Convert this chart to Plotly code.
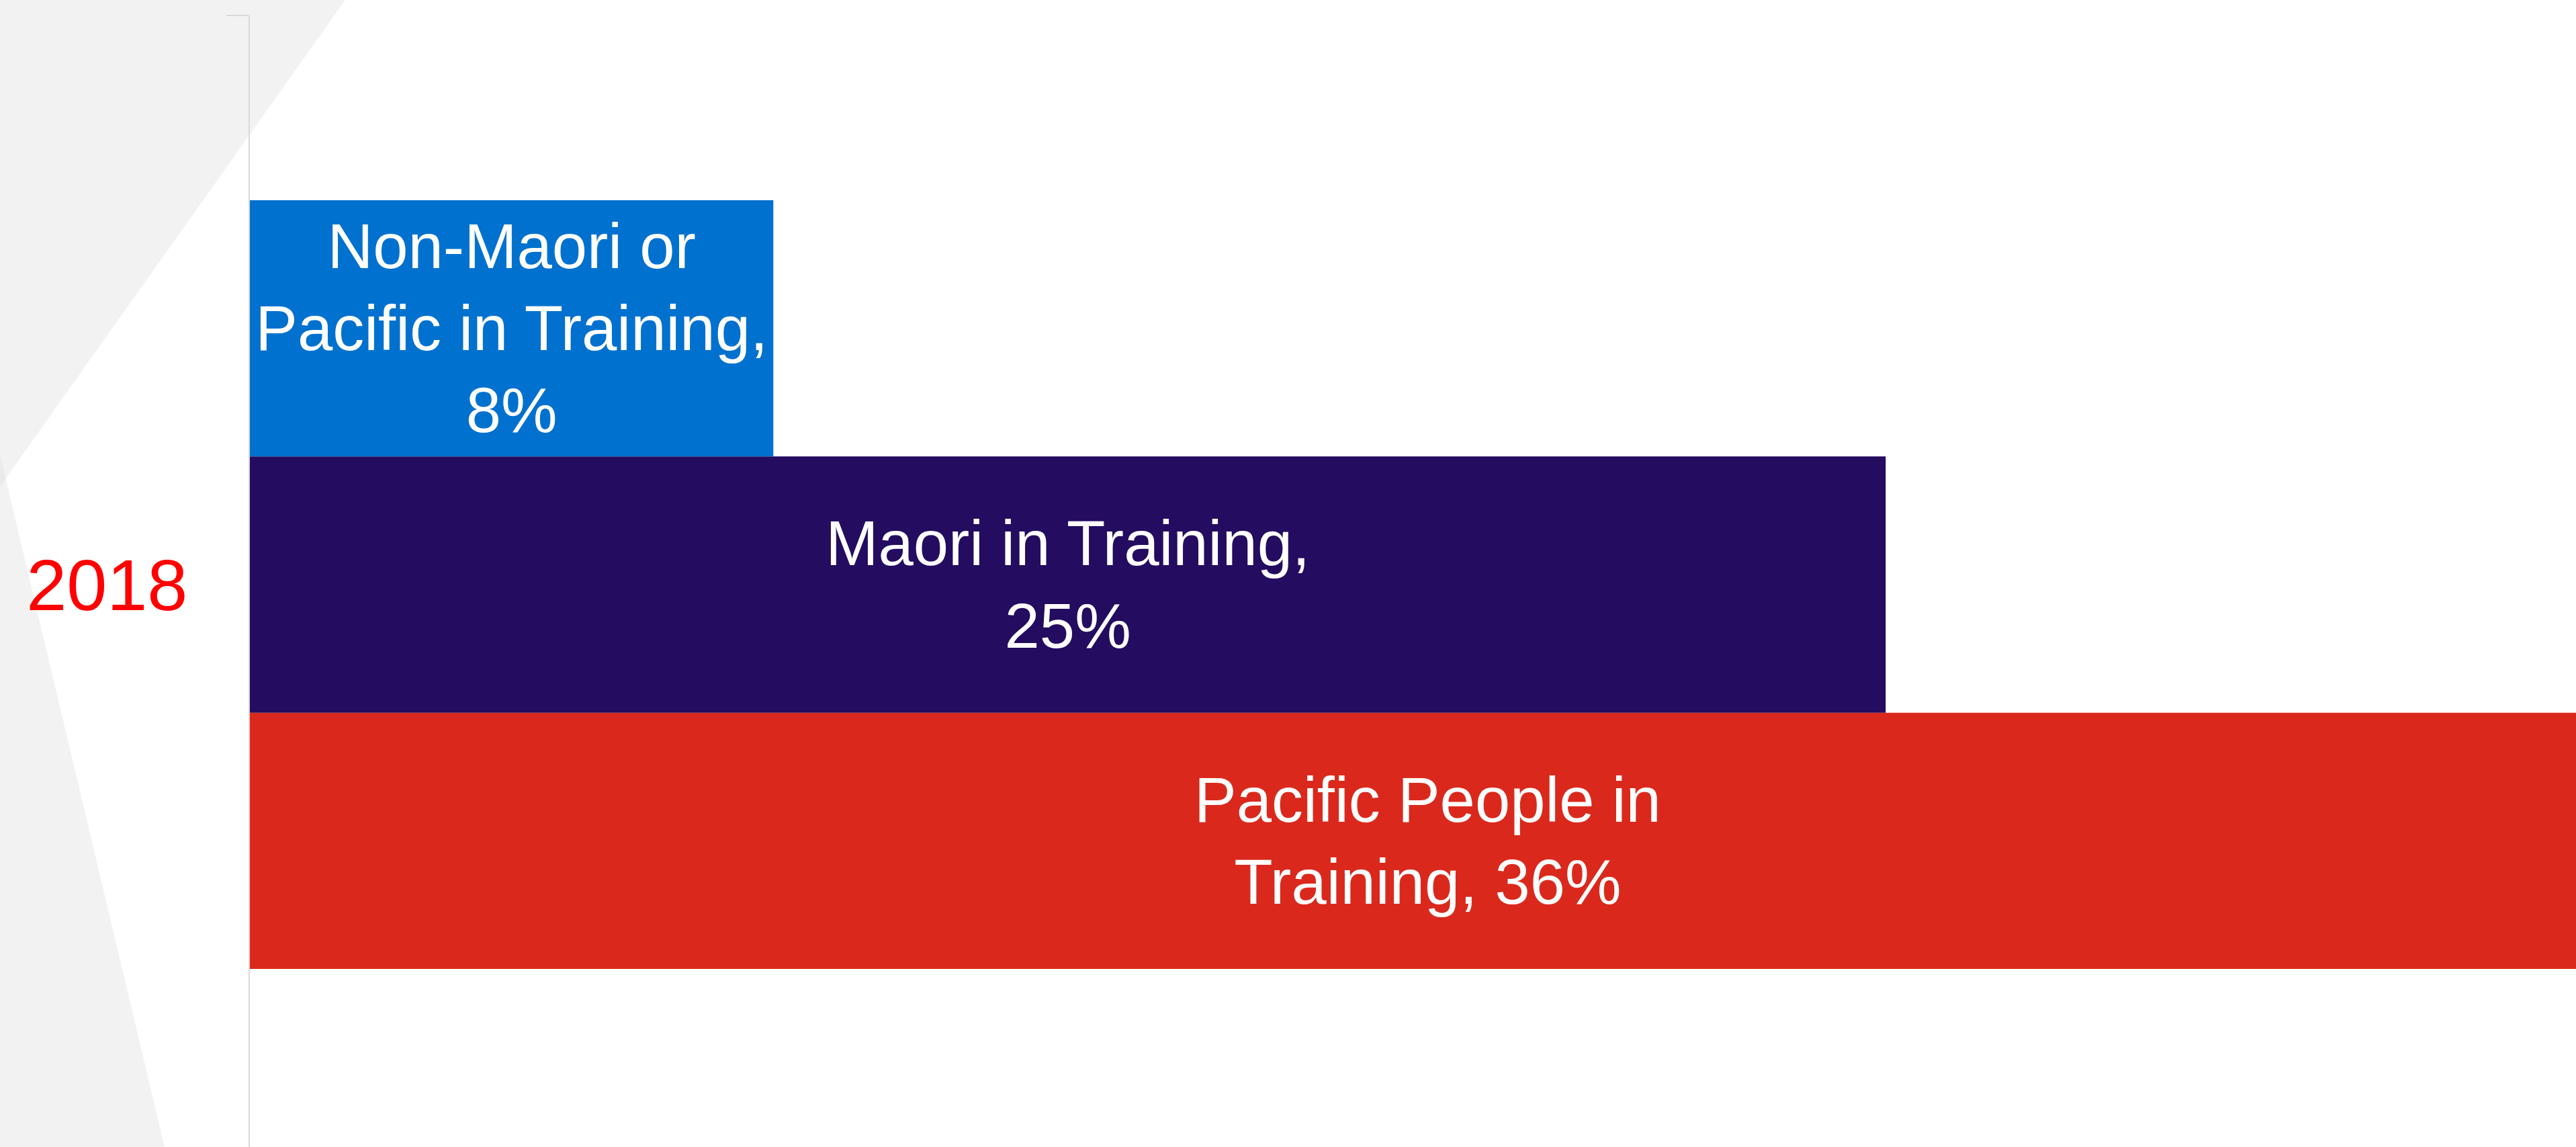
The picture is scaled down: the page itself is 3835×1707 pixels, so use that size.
import plotly.graph_objects as go

# ---- data ----
year_categories = ["2018"]
series_names = ["Pacific People in Training", "Maori in Training", "Non-Maori or Pacific in Training"]
series_label_wrapped = ["Pacific People in<br>Training, ", "Maori in Training,<br>", "Non-Maori or<br>Pacific in Training,<br>"]
series_values = [0.36, 0.25, 0.08]
series_colors = ["#DA291C", "#240C60", "#0071CE"]

W, H = 3835, 1707
ML, MR, MT, MB = 372, 0, 23, 0
PW, PH = W - ML - MR, H - MT - MB


def px(x, y):
    return (x - ML) / PW, (H - MB - y) / PH


def path(points):
    pts = [px(x, y) for x, y in points]
    return "M " + " L ".join(f"{a:.5f},{b:.5f}" for a, b in pts) + " Z"


fig = go.Figure()
for name, lab, val, col in zip(series_names, series_label_wrapped, series_values, series_colors):
    fig.add_trace(go.Bar(
        name=name,
        y=year_categories,
        x=[val],
        orientation="h",
        marker=dict(color=col, line=dict(width=0)),
        text=[lab + f"{val:.0%}"],
        textposition="inside",
        insidetextanchor="middle",
        textangle=0,
        constraintext="none",
        textfont=dict(family="Liberation Sans, Arial, sans-serif", size=94, color="white"),
        hoverinfo="skip",
    ))

shapes = [
    dict(type="path", xref="paper", yref="paper", layer="below",
         path=path([(-20, -20), (527, -20), (514, 0), (0, 724), (-20, 738)]),
         fillcolor="#F2F2F2", line=dict(width=0)),
    dict(type="path", xref="paper", yref="paper", layer="below",
         path=path([(-20, 600), (0, 677), (245, 1707), (250, 1730), (-20, 1730)]),
         fillcolor="#F2F2F2", line=dict(width=0)),
    dict(type="path", xref="paper", yref="paper", layer="below",
         path=path([(0, 677), (8.6, 712), (0, 724)]),
         fillcolor="#EAEAEA", line=dict(width=0)),
]

fig.update_layout(
    width=W, height=H,
    margin=dict(l=ML, r=MR, t=MT, b=MB, pad=0),
    barmode="group",
    bargap=0.3248,
    bargroupgap=0,
    showlegend=False,
    paper_bgcolor="white",
    plot_bgcolor="rgba(0,0,0,0)",
    shapes=shapes,
    hovermode=False,
    xaxis=dict(range=[0, 0.3555], showgrid=False, zeroline=False,
               showticklabels=False, showline=False, ticks=""),
    yaxis=dict(type="category", range=[-0.4941, 0.5], showgrid=False, zeroline=False,
               showline=True, linecolor="#D9D9D9", linewidth=2,
               ticks="outside", tickson="boundaries", ticklen=33, tickwidth=2,
               tickcolor="#D9D9D9", ticklabelstandoff=69,
               tickfont=dict(family="Liberation Sans, Arial, sans-serif", size=108, color="#FF0000")),
)

fig.write_html(
    "out.html",
    config={"displayModeBar": False},
    post_script="document.body.style.margin='0';document.body.style.padding='0';document.body.style.overflow='hidden';",
)
